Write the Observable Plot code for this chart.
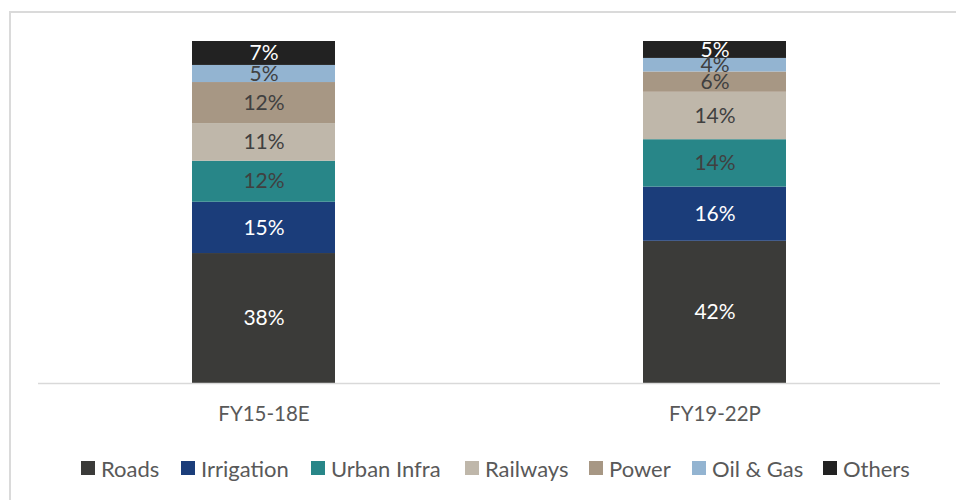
<!DOCTYPE html>
<html>
<head>
<meta charset="utf-8">
<script src="https://cdn.jsdelivr.net/npm/d3@7"></script>
<script src="https://cdn.jsdelivr.net/npm/@observablehq/plot@0.6"></script>
<style>
  html, body { margin: 0; padding: 0; background: #fff; }
  #wrap { position: relative; width: 956px; height: 500px; overflow: hidden; font-family: Lato, "Open Sans", sans-serif; }
  #frame { position: absolute; left: 9px; top: 11px; width: 1000px; height: 600px; border: 2px solid #dadada; box-sizing: border-box; }
  #chart { position: absolute; left: 0; top: 0; }
  #legend { position: absolute; top: 0; left: 0; width: 956px; height: 500px; font-size: 22px; color: #595959; white-space: nowrap; }
  .item { position: absolute; top: 455px; display: flex; align-items: center; height: 26px; }
  .sw { width: 14px; height: 14px; margin-right: 6px; }
</style>
</head>
<body>
<div id="wrap">
  <div id="frame"></div>
  <div id="chart"></div>
  <div id="legend"></div>
</div>
<script>
const periods = ["FY15-18E", "FY19-22P"];
const segments = ["Roads", "Irrigation", "Urban Infra", "Railways", "Power", "Oil & Gas", "Others"];
const fy15_18 = [38, 15, 12, 11, 12, 5, 7];
const fy19_22 = [42, 16, 14, 14, 6, 4, 5];
const colors = ["#3b3b39", "#1b3d7a", "#288688", "#bfb7aa", "#a79784", "#93b4d1", "#222222"];
const whiteLabel = ["Roads", "Irrigation", "Others"];
const legendX = [81, 181, 311, 465, 589, 692, 823];

const series = [fy15_18, fy19_22];
const data = [];
periods.forEach((p, i) => segments.forEach((s, j) => data.push({period: p, segment: s, value: series[i][j]})));

const stackOpts = {x: "period", y: "value", z: "segment", offset: "normalize"};

const chart = Plot.plot({
  width: 956,
  height: 440,
  marginLeft: 38,
  marginRight: 16,
  marginTop: 41,
  marginBottom: 57,
  style: {fontFamily: "Lato, 'Open Sans', sans-serif", background: "transparent"},
  x: {domain: periods, paddingInner: 0.683, paddingOuter: 0.3415, label: null},
  y: {axis: null, domain: [0, 1]},
  color: {domain: segments, range: colors},
  marks: [
    Plot.barY(data, Plot.stackY({...stackOpts, fill: "segment"})),
    Plot.text(data, Plot.stackY({...stackOpts,
      text: d => whiteLabel.includes(d.segment) ? d.value + "%" : null,
      fill: "white", fontSize: 21})),
    Plot.text(data, Plot.stackY({...stackOpts,
      text: d => whiteLabel.includes(d.segment) ? null : d.value + "%",
      fill: "#404040", fontSize: 21})),
    Plot.ruleY([0], {stroke: "#d9d9d9", strokeWidth: 1.5}),
    Plot.axisX({tickSize: 0, tickPadding: 23, fontSize: 20.5, color: "#595959", label: null})
  ]
});
document.getElementById("chart").appendChild(chart);

const legend = document.getElementById("legend");
segments.forEach((s, i) => {
  const it = document.createElement("div");
  it.className = "item";
  it.style.left = legendX[i] + "px";
  const sw = document.createElement("div");
  sw.className = "sw";
  sw.style.background = colors[i];
  const t = document.createElement("span");
  t.textContent = s;
  it.appendChild(sw);
  it.appendChild(t);
  legend.appendChild(it);
});
</script>
</body>
</html>
